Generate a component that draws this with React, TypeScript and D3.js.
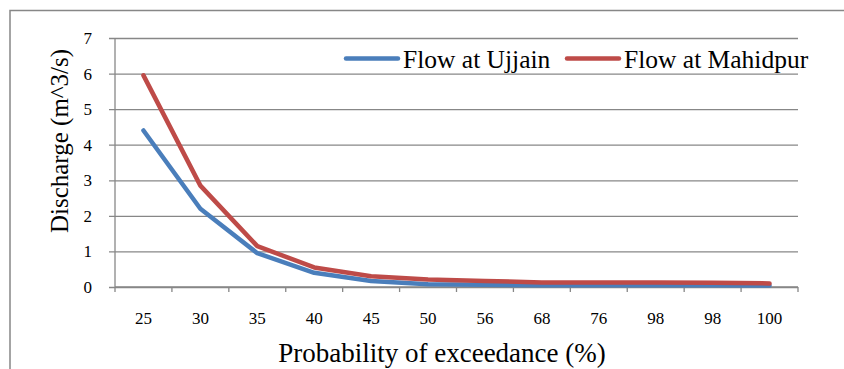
import { useEffect, useRef } from 'react'
import * as d3 from 'd3'

const categories = ['25', '30', '35', '40', '45', '50', '56', '68', '76', '98', '98', '100']
const ujjain = [4.4, 2.2, 0.95, 0.4, 0.17, 0.08, 0.06, 0.05, 0.05, 0.05, 0.05, 0.04]
const mahidpur = [5.95, 2.85, 1.15, 0.55, 0.3, 0.21, 0.17, 0.13, 0.13, 0.13, 0.12, 0.1]
const yTicks = [0, 1, 2, 3, 4, 5, 6, 7]

const seriesList = [
  { name: 'Flow at Ujjain', values: ujjain, color: '#4a7ebb' },
  { name: 'Flow at Mahidpur', values: mahidpur, color: '#be4b48' }
]

const font = 'Liberation Serif, Times New Roman, DejaVu Serif, serif'
const gridColor = '#878787'

export default function App() {
  const svgRef = useRef<SVGSVGElement>(null)

  useEffect(() => {
    if (!svgRef.current) return
    const svg = d3.select(svgRef.current)
    svg.selectAll('*').remove()

    const W = 844
    const H = 369
    const plot = { left: 115, right: 798, top: 38, bottom: 287 }

    // outer chart frame
    svg.append('rect')
      .attr('x', 10).attr('y', 10.5)
      .attr('width', W + 20).attr('height', H + 20)
      .attr('fill', '#fff')
      .attr('stroke', gridColor)
      .attr('stroke-width', 1.5)

    const x = d3.scaleBand<number>()
      .domain(categories.map((_, i) => i))
      .range([plot.left, plot.right])

    const y = d3.scaleLinear().domain([0, 7]).range([plot.bottom, plot.top])

    // horizontal gridlines + y labels
    const yAxis = svg.append('g')
      .attr('transform', `translate(${plot.left},0)`)
      .call(
        d3.axisLeft(y)
          .tickValues(yTicks)
          .tickSize(-(plot.right - plot.left))
          .tickSizeOuter(0)
          .tickPadding(23)
          .tickFormat(d => String(d))
      )
    yAxis.attr('font-family', null).attr('font-size', null)
    yAxis.select('.domain').remove()
    yAxis.selectAll('.tick line')
      .attr('x1', -6)
      .attr('stroke', gridColor)
      .attr('stroke-width', 1.3)
    yAxis.selectAll('.tick text')
      .attr('fill', '#000')
      .style('font-family', font)
      .style('font-size', '17px')

    // vertical axis line
    svg.append('line')
      .attr('x1', plot.left).attr('x2', plot.left)
      .attr('y1', plot.top).attr('y2', plot.bottom)
      .attr('stroke', gridColor)
      .attr('stroke-width', 1.3)

    // x axis with ticks at band boundaries
    const xAxis = svg.append('g')
      .attr('transform', `translate(0,${plot.bottom})`)
    xAxis.append('line')
      .attr('x1', plot.left).attr('x2', plot.right)
      .attr('stroke', gridColor)
      .attr('stroke-width', 1.3)
    const bounds = d3.range(categories.length + 1).map(i => plot.left + i * x.step())
    xAxis.selectAll('line.tk')
      .data(bounds)
      .join('line')
      .attr('class', 'tk')
      .attr('x1', d => d).attr('x2', d => d)
      .attr('y1', 0).attr('y2', 5)
      .attr('stroke', gridColor)
      .attr('stroke-width', 1.3)
    xAxis.selectAll('text')
      .data(categories)
      .join('text')
      .attr('x', (_, i) => (x(i) as number) + x.bandwidth() / 2)
      .attr('y', 37)
      .attr('text-anchor', 'middle')
      .style('font-size', '17px')
      .text(d => d)

    // series lines
    const line = d3.line<number>()
      .x((_, i) => (x(i) as number) + x.bandwidth() / 2)
      .y(d => y(d))

    seriesList.forEach(s => {
      svg.append('path')
        .datum(s.values)
        .attr('fill', 'none')
        .attr('stroke', s.color)
        .attr('stroke-width', 4.5)
        .attr('stroke-linejoin', 'round')
        .attr('stroke-linecap', 'round')
        .attr('d', line)
    })

    // legend
    const legendItems = [
      { x0: 346, x1: 398, tx: 403 },
      { x0: 567, x1: 619, tx: 624 }
    ]
    seriesList.forEach((s, i) => {
      const p = legendItems[i]
      svg.append('line')
        .attr('x1', p.x0).attr('x2', p.x1)
        .attr('y1', 58.5).attr('y2', 58.5)
        .attr('stroke', s.color)
        .attr('stroke-width', 4.5)
        .attr('stroke-linecap', 'round')
      svg.append('text')
        .attr('x', p.tx).attr('y', 67.5)
        .style('font-size', '25.5px')
        .text(s.name)
    })

    // axis titles
    svg.append('text')
      .attr('transform', 'translate(68,141) rotate(-90)')
      .attr('text-anchor', 'middle')
      .style('font-size', '25px')
      .text('Discharge (m^3/s)')

    svg.append('text')
      .attr('x', 442).attr('y', 362)
      .attr('text-anchor', 'middle')
      .style('font-size', '27px')
      .text('Probability of exceedance (%)')
  }, [])

  return (
    <svg
      ref={svgRef}
      width={844}
      height={369}
      style={{ position: 'absolute', left: 0, top: 0, background: '#fff', fontFamily: font }}
    />
  )
}
